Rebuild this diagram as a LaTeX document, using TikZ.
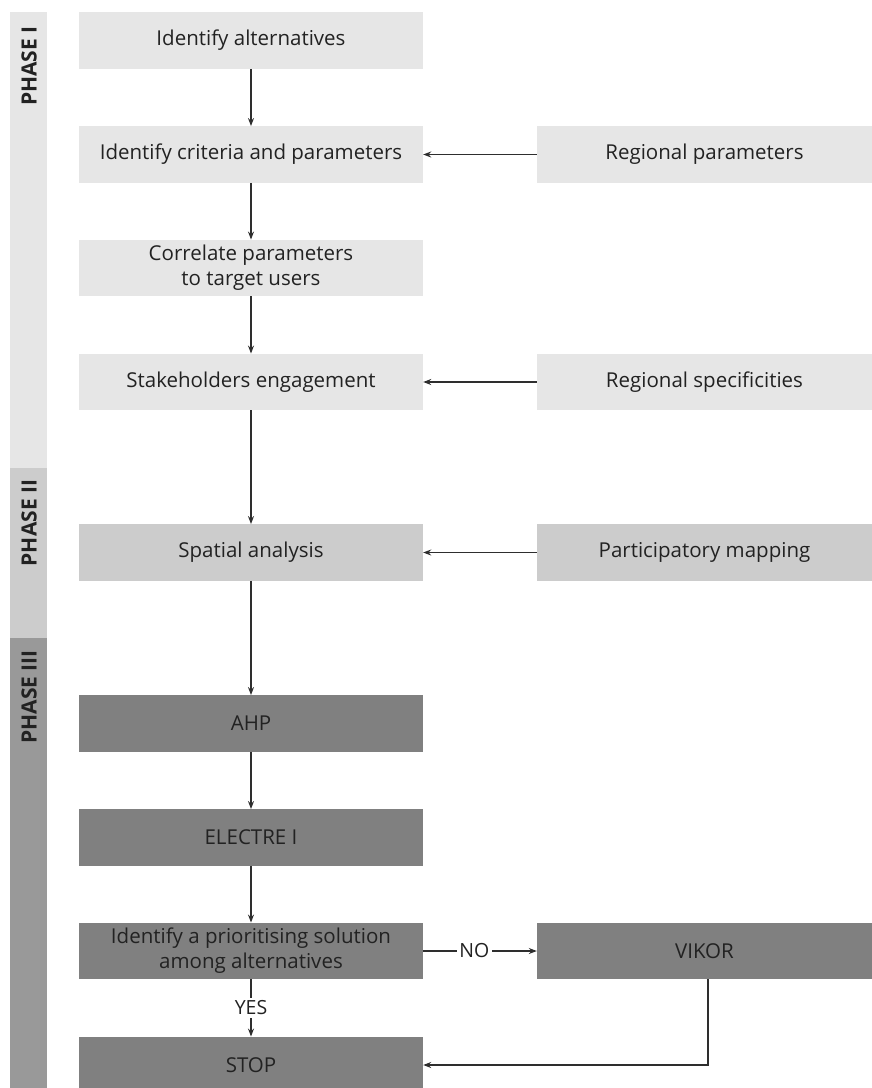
\documentclass[tikz,border=0pt]{standalone}
\usepackage{fontspec}
\setmainfont{Open Sans}
\usetikzlibrary{arrows.meta}
\definecolor{lightbox}{HTML}{E6E6E6}
\definecolor{midbox}{HTML}{CCCCCC}
\definecolor{darkbox}{HTML}{808080}
\definecolor{phthree}{HTML}{999999}
\definecolor{txt}{HTML}{222222}
\definecolor{ln}{HTML}{2E2E2E}
\begin{document}
\begin{tikzpicture}[x=1pt,y=-1pt,
  box/.style={rectangle,inner sep=0pt,minimum height=56.5pt,text=txt,font=\fontsize{20.5}{25}\selectfont,align=center},
  lbox/.style={box,minimum width=344pt},
  rbox/.style={box,minimum width=335pt},
  phtext/.style={rotate=90,text=txt,font=\fontsize{21}{24}\selectfont\bfseries,inner sep=0pt},
  arr/.style={draw=ln,line width=1.1pt,-{Stealth[length=8pt,width=6pt]}},
  lab/.style={fill=white,inner sep=2.5pt,text=txt,font=\fontsize{19.5}{22}\selectfont}
]
\useasboundingbox (0,0) rectangle (872,1088);
\begin{scope}
\clip (0,0) rectangle (872,1088);
% phase bars
\fill[lightbox] (10,12) rectangle (47,468);
\fill[midbox] (10,468) rectangle (47,638);
\fill[phthree] (10,638) rectangle (47,1088);
\node[phtext] (p1) at (29,66) {PHASE I};
\node[phtext] (p2) at (29,523) {PHASE II};
\node[phtext] (p3) at (29,697) {PHASE III};
% left column
\node[lbox,fill=lightbox] (b1) at (251,40.5) {Identify alternatives};
\node[lbox,fill=lightbox] (b2) at (251,154.5) {Identify criteria and parameters};
\node[lbox,fill=lightbox] (b3) at (251,268) {Correlate parameters\\to target users};
\node[lbox,fill=lightbox] (b4) at (251,382) {Stakeholders engagement};
\node[lbox,fill=midbox] (sa) at (251,552.5) {Spatial analysis};
\node[lbox,fill=darkbox] (ahp) at (251,723.5) {AHP};
\node[lbox,fill=darkbox] (el) at (251,837.5) {ELECTRE I};
\node[lbox,fill=darkbox] (id) at (251,951) {Identify a prioritising solution\\among alternatives};
\node[lbox,fill=darkbox] (stop) at (251,1065) {STOP};
% right column
\node[rbox,fill=lightbox] (rp) at (704.5,154.5) {Regional parameters};
\node[rbox,fill=lightbox] (rs) at (704.5,382) {Regional specificities};
\node[rbox,fill=midbox] (pm) at (704.5,552.5) {Participatory mapping};
\node[rbox,fill=darkbox] (vk) at (704.5,951) {VIKOR};
\end{scope}
% connectors
\draw[arr] (b1) -- (b2);
\draw[arr] (b2) -- (b3);
\draw[arr] (b3) -- (b4);
\draw[arr] (b4) -- (sa);
\draw[arr] (sa) -- (ahp);
\draw[arr] (ahp) -- (el);
\draw[arr] (el) -- (id);
\draw[arr] (rp) -- (b2);
\draw[arr] (rs) -- (b4);
\draw[arr] (pm) -- (sa);
\draw[arr] (id) -- node[lab] {YES} (stop);
\draw[arr] (id) -- node[lab,pos=0.45] {NO} (vk);
\draw[arr] ([xshift=3.5pt]vk.south) |- (stop.east);
\end{tikzpicture}
\end{document}
